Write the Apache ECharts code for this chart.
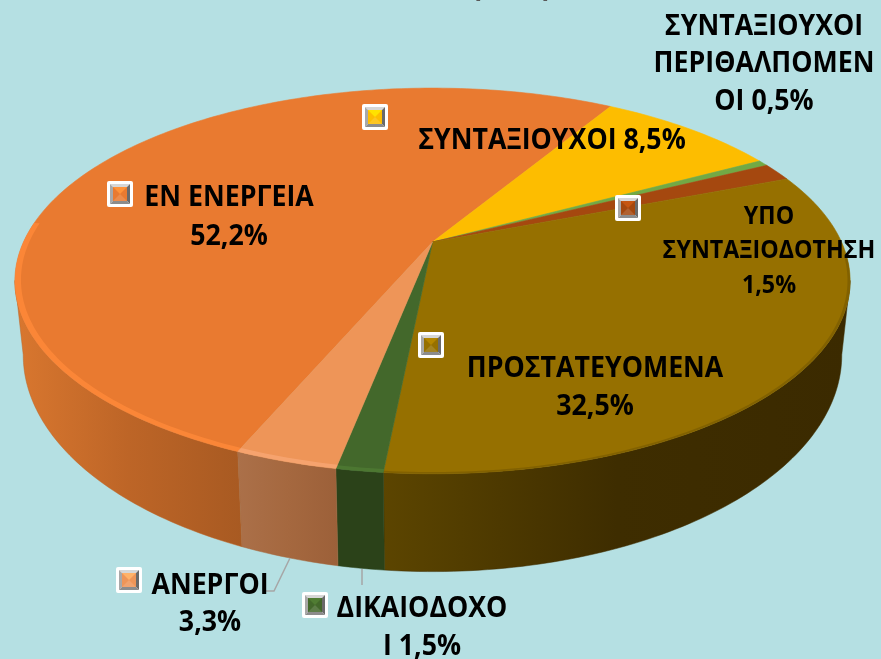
<!DOCTYPE html>
<html>
<head>
<meta charset="utf-8">
<style>
  html, body { margin: 0; padding: 0; background: #b5e0e3; }
  #chart { width: 881px; height: 659px; }
</style>
</head>
<body>
<div id="chart"></div>
<script src="https://cdn.jsdelivr.net/npm/echarts@6/dist/echarts.min.js"></script>
<script>
const categories = ['ΕΝ ΕΝΕΡΓΕΙΑ', 'ΣΥΝΤΑΞΙΟΥΧΟΙ', 'ΣΥΝΤΑΞΙΟΥΧΟΙ ΠΕΡΙΘΑΛΠΟΜΕΝΟΙ', 'ΥΠΟ ΣΥΝΤΑΞΙΟΔΟΤΗΣΗ', 'ΠΡΟΣΤΑΤΕΥΟΜΕΝΑ', 'ΔΙΚΑΙΟΔΟΧΟΙ', 'ΑΝΕΡΓΟΙ']
const shares = [52.2, 8.5, 0.5, 1.5, 32.5, 1.5, 3.3]

const topColors = ['#e97a30', '#fdbd00', '#72a945', '#a5480f', '#967000', '#43682b', '#ee9558']
const rimColors = ['#ff8a3a', '#fdbd00', '#72a945', '#a5480f', '#7d5e00', '#4f7a33', '#f7a674']
const rimWidths = [0.986, 1, 1, 1, 0.994, 0.988, 0.986]
// wall colours, left to right
const sideColors = [
  ['#d9772f', '#bd6527', '#a85a22'],
  ['#b08000', '#b08000', '#b08000'],
  ['#4d7530', '#4d7530', '#4d7530'],
  ['#6f300a', '#6f300a', '#6f300a'],
  ['#5c4500', '#3e2d00', '#3b2a00'],
  ['#2b4219', '#2b4219', '#2b4219'],
  ['#ab7049', '#a5683f', '#9c6039']
]

// label lines are broken the way the picture breaks them
const labelLines = [
  [['ΕΝ ΕΝΕΡΓΕΙΑ', 229, 198], ['52,2%', 229, 237]],
  [['ΣΥΝΤΑΞΙΟΥΧΟΙ 8,5%', 552, 141]],
  [['ΣΥΝΤΑΞΙΟΥΧΟΙ', 764, 27], ['ΠΕΡΙΘΑΛΠΟΜΕΝ', 764, 64], ['ΟΙ 0,5%', 764, 102]],
  [['ΥΠΟ', 769, 217], ['ΣΥΝΤΑΞΙΟΔΟΤΗΣΗ', 769, 251], ['1,5%', 769, 286]],
  [['ΠΡΟΣΤΑΤΕΥΟΜΕΝΑ', 595, 369], ['32,5%', 595, 407]],
  [['ΔΙΚΑΙΟΔΟΧΟ', 422, 609], ['Ι 1,5%', 422, 647]],
  [['ΑΝΕΡΓΟΙ', 210, 586], ['3,3%', 210, 623]]
]
const labelFontSizes = [28, 28, 28, 25, 28, 28, 28]
const labelStretch = [0.955, 0.955, 0.955, 0.93, 0.955, 0.955, 0.955]
const iconPositions = [[120, 194], [375, 117], null, [628, 208], [431, 345], [315, 605], [129, 580]]
const leaderLines = [
  [[290, 558], [274, 591], [266, 591]],
  [[362, 569], [362, 585]]
]
// what is left of the cropped-off title at the top edge
const titleScraps = [['Ο', 263], ['Ο', 463], [',', 480], ['Ο', 530], [',', 547], ['Ο', 597], ['Ο', 640]]

// perspective discs, apex at (cx, cy)
const firstAngle = 112.8
const cx = 432.5
const topDisc = { cy: 242, rx: 409, ry: 185, p: 0.202 }
const bottomDisc = { cy: 311.6, rx: 401, ry: 208, p: 0.2 }

function project(disc, deg, scale) {
  const t = deg * Math.PI / 180
  const s = scale === undefined ? 1 : scale
  const w = 1 - disc.p * s * Math.sin(t)
  return [cx + s * disc.rx * Math.cos(t) / w, disc.cy + s * disc.ry * Math.sin(t) / w]
}

function arc(disc, from, to, scale) {
  const pts = []
  const n = Math.max(2, Math.ceil(Math.abs(to - from)))
  for (let i = 0; i <= n; i++) pts.push(project(disc, from + (to - from) * i / n, scale))
  return pts
}

const total = shares.reduce((a, b) => a + b, 0)
function sliceRange(i) {
  const before = shares.slice(0, i).reduce((a, b) => a + b, 0)
  return [firstAngle + before / total * 360, firstAngle + (before + shares[i]) / total * 360]
}

// only the part of the wall that faces the viewer, in the same turn as the slice
function visible(range, lo, hi) {
  for (const k of [-360, 0, 360]) {
    const from = Math.max(range[0] + k, lo)
    const to = Math.min(range[1] + k, hi)
    if (to > from) return [from, to]
  }
  return null
}

function renderSide(params, api) {
  const i = params.dataIndex
  const r = visible(sliceRange(i), 11.5, 168.5)
  if (!r) return { type: 'group', children: [] }
  const pts = arc(topDisc, r[0], r[1]).concat(arc(bottomDisc, r[1], r[0]))
  const fill = new echarts.graphic.LinearGradient(0, 0, 1, 0, [
    { offset: 0, color: sideColors[i][0] },
    { offset: 0.5, color: sideColors[i][1] },
    { offset: 1, color: sideColors[i][2] }
  ])
  return { type: 'polygon', shape: { points: pts }, style: { fill: fill, stroke: sideColors[i][1], lineWidth: 0.5 } }
}

function renderTop(params, api) {
  const i = params.dataIndex
  const r = sliceRange(i)
  const children = [{
    type: 'polygon',
    shape: { points: [[cx, topDisc.cy]].concat(arc(topDisc, r[0], r[1])) },
    style: { fill: topColors[i], stroke: topColors[i], lineWidth: 0.6 }
  }]
  const front = visible(r, 5, 186)
  if (front && rimWidths[i] < 1) {
    const band = arc(topDisc, front[0], front[1], 1).concat(arc(topDisc, front[1], front[0], rimWidths[i]))
    children.push({ type: 'polygon', shape: { points: band }, style: { fill: rimColors[i], opacity: 0.8 } })
  }
  return { type: 'group', children: children }
}

function iconChildren(pos, color) {
  const x = pos[0], y = pos[1]
  const quad = (pts, fill) => ({ type: 'polygon', shape: { points: pts }, style: { fill: fill } })
  const o = 10, n = 7
  return [
    { type: 'rect', shape: { x: x - 13, y: y - 13, width: 26, height: 26, r: 2 }, style: { fill: '#ffffff' } },
    quad([[x - o, y - o], [x + o, y - o], [x + n, y - n], [x - n, y - n]], '#d6d6d6'),
    quad([[x - o, y - o], [x - n, y - n], [x - n, y + n], [x - o, y + o]], '#a8a8a8'),
    quad([[x + o, y - o], [x + o, y + o], [x + n, y + n], [x + n, y - n]], '#6a6a6a'),
    quad([[x - o, y + o], [x + o, y + o], [x + n, y + n], [x - n, y + n]], '#8c8c8c'),
    { type: 'rect', shape: { x: x - n, y: y - n, width: 2 * n, height: 2 * n }, style: { fill: color } },
    quad([[x - n, y - n], [x + n, y - n], [x, y]], echarts.color.lift(color, -0.2)),
    quad([[x - n, y + n], [x + n, y + n], [x, y]], echarts.color.lift(color, 0.14))
  ]
}

function renderLabel(params, api) {
  const i = params.dataIndex
  const children = []
  if (iconPositions[i]) children.push.apply(children, iconChildren(iconPositions[i], topColors[i]))
  labelLines[i].forEach(line => {
    children.push({
      type: 'text',
      x: line[1],
      y: line[2],
      scaleX: labelStretch[i],
      style: {
        x: 0,
        y: 0,
        text: line[0],
        fill: '#000000',
        font: 'bold ' + labelFontSizes[i] + 'px "Open Sans"',
        textAlign: 'center',
        textVerticalAlign: 'middle'
      }
    })
  })
  return { type: 'group', children: children }
}

function renderLeader(params, api) {
  return {
    type: 'polyline',
    shape: { points: leaderLines[params.dataIndex] },
    style: { fill: 'none', stroke: '#a6a6a6', lineWidth: 1.5 }
  }
}

function renderScrap(params, api) {
  const s = titleScraps[params.dataIndex]
  return {
    type: 'text',
    x: s[1],
    y: s[0] == ',' ? -13 : -17,
    style: {
      x: 0,
      y: 0,
      text: s[0],
      fill: '#595959',
      font: 'bold 34px "Open Sans"',
      textAlign: 'center',
      textVerticalAlign: 'middle'
    }
  }
}

const chart = echarts.init(document.getElementById('chart'), null, { renderer: 'canvas' })

chart.setOption({
  backgroundColor: '#b5e0e3',
  animation: false,
  series: [
    { type: 'custom', coordinateSystem: 'none', z: 1, renderItem: renderScrap, data: titleScraps.map((d, i) => i), silent: true },
    { type: 'custom', coordinateSystem: 'none', z: 2, renderItem: renderSide, data: shares, silent: true },
    { type: 'custom', coordinateSystem: 'none', z: 3, renderItem: renderTop, data: shares, silent: true },
    { type: 'custom', coordinateSystem: 'none', z: 4, renderItem: renderLeader, data: leaderLines.map((d, i) => i), silent: true },
    { type: 'custom', coordinateSystem: 'none', z: 5, renderItem: renderLabel, data: shares, name: categories.join(', '), silent: true }
  ]
})
</script>
</body>
</html>
